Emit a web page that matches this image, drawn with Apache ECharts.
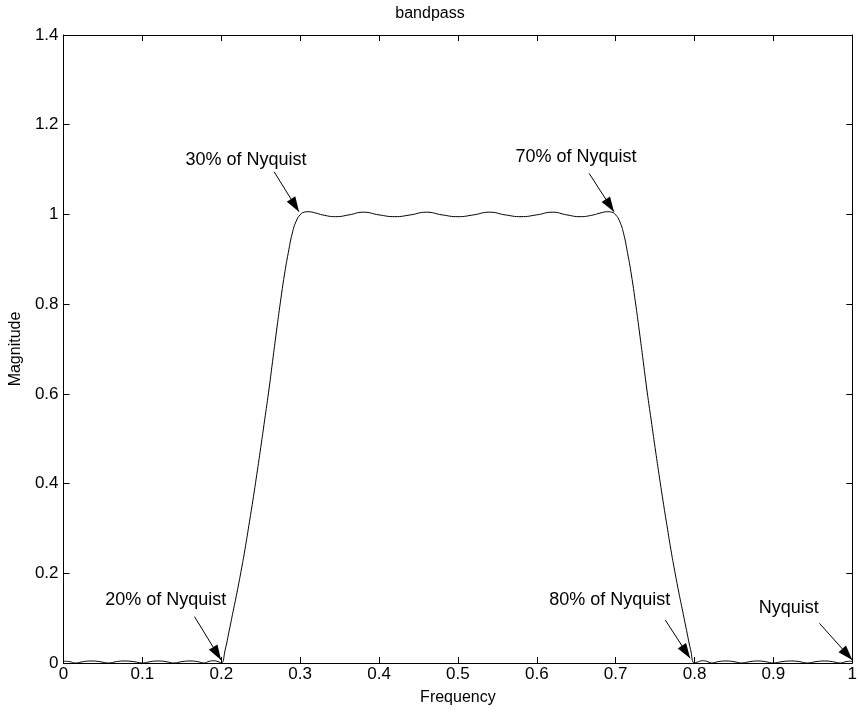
<!DOCTYPE html>
<html>
<head>
<meta charset="utf-8">
<script src="https://cdn.jsdelivr.net/npm/echarts@6/dist/echarts.min.js"></script>
<style>html,body{margin:0;padding:0;background:#fff;}#chart{width:860px;height:715px;}</style>
</head>
<body>
<div id="chart"></div>
<script>
// ---- data ----
var freq = [
  0, 0.008, 0.015, 0.025, 0.035, 0.046, 0.057, 0.067, 0.077, 0.089, 0.1, 0.11, 0.12, 0.13, 0.14, 0.15, 0.16, 0.17, 0.178, 0.185, 0.19, 0.196,
  0.2, 0.205, 0.21, 0.215, 0.22, 0.225, 0.23, 0.235, 0.24, 0.245, 0.25, 0.255, 0.26, 0.265, 0.27, 0.275, 0.28, 0.285, 0.29, 0.295, 0.3, 0.305,
  0.31, 0.32, 0.328, 0.345, 0.362, 0.38, 0.40, 0.42, 0.44, 0.46, 0.48, 0.50, 0.52, 0.54, 0.56, 0.58, 0.60, 0.62, 0.638, 0.655, 0.672, 0.68,
  0.69, 0.695, 0.7, 0.705, 0.71, 0.715, 0.72, 0.725, 0.73, 0.735, 0.74, 0.745, 0.75, 0.755, 0.76, 0.765, 0.77, 0.775, 0.78, 0.785, 0.79, 0.795,
  0.8, 0.805, 0.81, 0.815, 0.822, 0.83, 0.84, 0.85, 0.86, 0.87, 0.88, 0.89, 0.9, 0.911, 0.923, 0.933, 0.943, 0.954, 0.965, 0.975, 0.985, 0.992, 1.0
];
var magnitude = [
  0.004, 0.003, 0, 0.003, 0.0045, 0.003, 0, 0.003, 0.0045, 0.003, 0, 0.003, 0.0045, 0.003, 0, 0.003, 0.0045, 0.003, 0, 0.004, 0.005, 0.003,
  0, 0.03, 0.072, 0.115, 0.158, 0.204, 0.253, 0.307, 0.362, 0.42, 0.48, 0.542, 0.604, 0.672, 0.74, 0.805, 0.865, 0.915, 0.958, 0.985, 0.999, 1.005,
  1.006, 1.003, 0.999, 0.995, 0.999, 1.005, 0.999, 0.995, 0.999, 1.005, 0.999, 0.995, 0.999, 1.005, 0.999, 0.995, 0.999, 1.005, 0.999, 0.995, 0.999, 1.003,
  1.006, 1.005, 0.999, 0.985, 0.958, 0.915, 0.865, 0.805, 0.74, 0.672, 0.604, 0.542, 0.48, 0.42, 0.362, 0.307, 0.253, 0.204, 0.158, 0.115, 0.072, 0.03,
  0, 0.003, 0.005, 0.004, 0, 0.003, 0.0045, 0.003, 0, 0.003, 0.0045, 0.003, 0, 0.003, 0.0045, 0.003, 0, 0.003, 0.0045, 0.003, 0, 0.003, 0.004
];
var xTickValues = [0, 0.1, 0.2, 0.3, 0.4, 0.5, 0.6, 0.7, 0.8, 0.9, 1];
var xTickLabels = ['0', '0.1', '0.2', '0.3', '0.4', '0.5', '0.6', '0.7', '0.8', '0.9', '1'];
var yTickValues = [0, 0.2, 0.4, 0.6, 0.8, 1, 1.2, 1.4];
var yTickLabels = ['0', '0.2', '0.4', '0.6', '0.8', '1', '1.2', '1.4'];

var noteTexts = ['30% of Nyquist', '70% of Nyquist', '20% of Nyquist', '80% of Nyquist', 'Nyquist'];
var noteTextX = [0.2313, 0.6497, 0.1295, 0.6926, 0.9195];
var noteTextY = [1.121, 1.128, 0.1404, 0.1404, 0.1215];
var arrowFromX = [0.267, 0.6663, 0.1661, 0.7629, 0.9584];
var arrowFromY = [1.095, 1.0916, 0.1032, 0.0959, 0.0885];
var arrowToX = [0.2985, 0.6979, 0.1997, 0.7944, 1.0];
var arrowToY = [1.006, 1.006, 0.0067, 0.0105, 0.0067];

var titleText = 'bandpass';
var xName = 'Frequency';
var yName = 'Magnitude';

// ---- build options ----
var FONT = 'Liberation Sans, Arial, sans-serif';
var curve = freq.map(function (f, i) { return [f, magnitude[i]]; });
var notes = noteTexts.map(function (t, i) { return [noteTextX[i], noteTextY[i], t]; });
var arrows = noteTexts.map(function (t, i) {
  return [{ coord: [arrowFromX[i], arrowFromY[i]] }, { coord: [arrowToX[i], arrowToY[i]] }];
});
function fmt(values, labels) {
  return function (v) {
    for (var i = 0; i < values.length; i++) { if (Math.abs(values[i] - v) < 1e-9) return labels[i]; }
    return '';
  };
}
var axisCommon = {
  type: 'value',
  axisLine: { show: true, onZero: false, lineStyle: { color: '#000', width: 1 } },
  axisTick: { show: true, inside: true, length: 6, lineStyle: { color: '#000', width: 1 } },
  splitLine: { show: false }
};
function ax(extra) { return Object.assign({}, axisCommon, extra); }

var chart = echarts.init(document.getElementById('chart'), null, { renderer: 'canvas' });
chart.setOption({
  animation: false,
  backgroundColor: '#fff',
  title: {
    text: titleText, left: 'center', top: 1,
    textStyle: { fontFamily: FONT, fontSize: 16, fontWeight: 'normal', color: '#000' }
  },
  grid: { left: 63, right: 3, top: 35, bottom: 52, containLabel: false },
  xAxis: [
    ax({ min: 0, max: 1, interval: 0.1, position: 'bottom',
      name: xName, nameLocation: 'middle', nameGap: 27,
      nameTextStyle: { fontFamily: FONT, fontSize: 16, color: '#000' },
      axisLabel: { show: true, margin: 3, color: '#000', fontFamily: FONT, fontSize: 17, formatter: fmt(xTickValues, xTickLabels) } }),
    ax({ min: 0, max: 1, interval: 0.1, position: 'top', axisLabel: { show: false } })
  ],
  yAxis: [
    ax({ min: 0, max: 1.4, interval: 0.2, position: 'left',
      name: yName, nameLocation: 'middle', nameGap: 32,
      nameTextStyle: { fontFamily: FONT, fontSize: 16, color: '#000' },
      axisLabel: { show: true, margin: 5, color: '#000', fontFamily: FONT, fontSize: 17, formatter: fmt(yTickValues, yTickLabels) } }),
    ax({ min: 0, max: 1.4, interval: 0.2, position: 'right', axisLabel: { show: false } })
  ],
  series: [
    {
      type: 'line', data: curve, xAxisIndex: 0, yAxisIndex: 0,
      showSymbol: false, symbol: 'none', smooth: 0.5,
      lineStyle: { color: '#000', width: 1 }, silent: true
    },
    {
      type: 'line', data: [], xAxisIndex: 0, yAxisIndex: 0, silent: true,
      markLine: {
        silent: true, animation: false,
        symbol: ['none', 'triangle'], symbolSize: [10, 15], symbolOffset: [0, [0, 7.5]],
        lineStyle: { color: '#000', width: 1, type: 'solid' },
        itemStyle: { color: '#000' },
        label: { show: false },
        emphasis: { disabled: true },
        data: arrows
      }
    },
    {
      type: 'scatter', data: notes, xAxisIndex: 0, yAxisIndex: 0, silent: true,
      symbolSize: 1, itemStyle: { color: 'rgba(0,0,0,0)', opacity: 1 },
      label: {
        show: true, position: 'inside', color: '#000', opacity: 1, fontFamily: FONT, fontSize: 18,
        align: 'center', verticalAlign: 'middle', textBorderWidth: 0,
        formatter: function (p) { return p.data[2]; }
      }
    }
  ]
});
</script>
</body>
</html>
